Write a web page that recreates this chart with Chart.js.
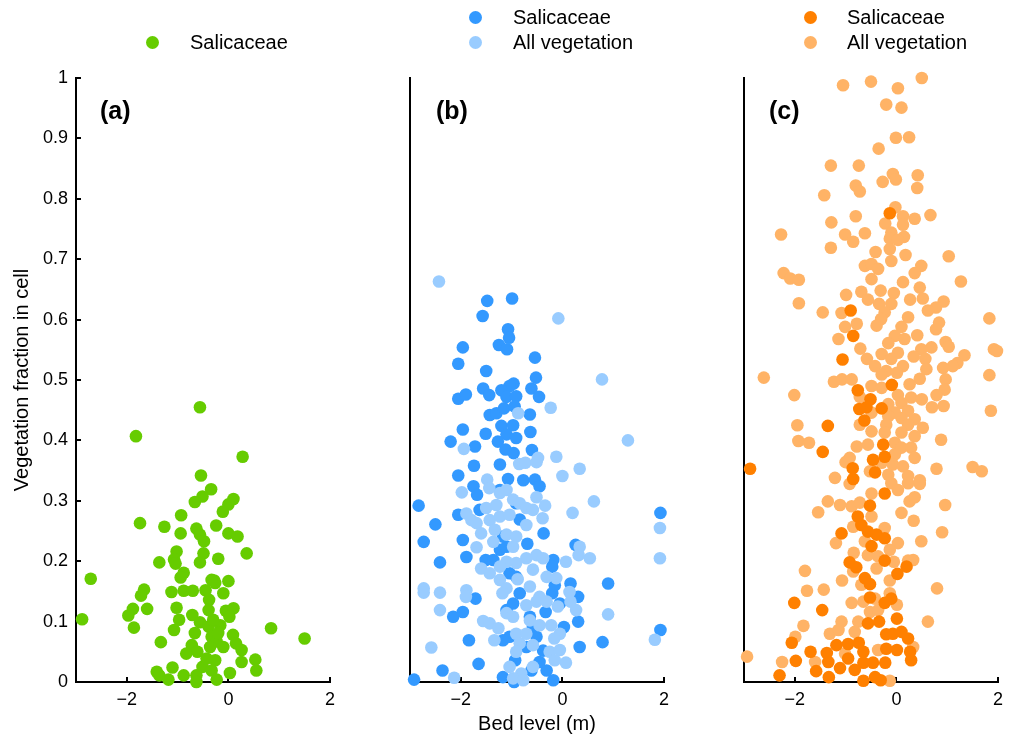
<!DOCTYPE html>
<html>
<head>
<meta charset="utf-8">
<title>Vegetation fraction vs bed level</title>
<script src="https://cdn.jsdelivr.net/npm/chart.js@4.4.1/dist/chart.umd.min.js"></script>
<style>
  body { margin: 0; background: #fff; font-family: 'Liberation Sans', Arial, sans-serif; color: #000; }
  #wrap { position: relative; width: 1011px; height: 735px; overflow: hidden; }
  #wrap canvas { position: absolute; top: 0; }
  .tag { position: absolute; font-weight: bold; font-size: 25px; line-height: 25px; }
  .key { position: absolute; font-size: 20px; line-height: 20px; white-space: nowrap; }
  .dot { position: absolute; width: 13px; height: 13px; border-radius: 50%; }
</style>
</head>
<body>
<div id="wrap">
  <canvas id="panelA" width="347" height="735" style="left:0px"></canvas>
  <canvas id="panelB" width="347" height="735" style="left:334px"></canvas>
  <canvas id="panelC" width="347" height="735" style="left:668px"></canvas>
</div>
<script>
// axis ticks
const xTicks = [-2, 0, 2];
const xTickLabels = ['\u22122', '0', '2'];
const yTicks = [0, 0.1, 0.2, 0.3, 0.4, 0.5, 0.6, 0.7, 0.8, 0.9, 1];
const yTickLabels = ['0', '0.1', '0.2', '0.3', '0.4', '0.5', '0.6', '0.7', '0.8', '0.9', '1'];

// [bed level (m), vegetation fraction]
const panelASalicaceae = [
  [-0.56,0.455],[-1.82,0.407],[0.28,0.373],[-0.54,0.342],[-0.34,0.319],[-0.51,0.307],[-0.66,0.298],[0.10,0.303],
  [0.00,0.294],[-0.11,0.282],[-0.93,0.276],[-1.74,0.263],[-1.26,0.257],[-0.94,0.246],[-0.63,0.254],[-0.56,0.244],
  [-0.48,0.233],[-0.24,0.259],[0.00,0.246],[0.18,0.241],[0.36,0.213],[-1.02,0.216],[-1.07,0.203],[-0.49,0.213],
  [-0.56,0.198],[-0.20,0.204],[-1.36,0.198],[-1.04,0.196],[-0.88,0.181],[-0.94,0.173],[-2.71,0.171],[-0.28,0.168],
  [0.00,0.167],[-1.66,0.153],[-1.72,0.143],[-1.12,0.149],[-0.88,0.151],[-0.70,0.151],[-0.45,0.152],[-0.10,0.147],
  [-0.38,0.136],[-1.02,0.123],[-1.60,0.121],[-1.88,0.121],[-1.97,0.110],[-1.86,0.090],[-2.88,0.104],[-0.05,0.118],
  [0.10,0.122],[0.02,0.108],[-0.71,0.111],[-0.97,0.103],[-1.07,0.086],[-0.56,0.099],[-0.39,0.092],[-0.16,0.094],
  [-0.66,0.081],[-0.33,0.075],[0.09,0.078],[-1.33,0.066],[0.84,0.089],[1.50,0.072],[-0.72,0.061],[-0.61,0.050],
  [-0.23,0.067],[-0.10,0.058],[0.15,0.064],[-0.83,0.047],[0.26,0.053],[0.53,0.037],[0.26,0.033],[0.55,0.019],
  [-1.41,0.017],[-1.10,0.024],[-1.36,0.011],[-1.18,0.004],[-0.88,0.011],[-0.63,0.011],[-0.63,0.000],[-0.51,0.025],
  [-0.33,0.019],[-0.23,0.004],[0.03,0.015],[-0.26,0.036],[-0.43,0.039],[-0.30,0.103],[-0.20,0.081],[-0.36,0.058],
  [-0.39,0.119],[-0.26,0.164],[-0.33,0.169]
];

const panelBSalicaceae = [
  [-1.48,0.631],[-0.99,0.635],[-1.57,0.606],[-1.07,0.584],[-1.05,0.570],[-1.25,0.558],[-1.09,0.551],[-1.96,0.554],
  [-2.05,0.527],[-0.54,0.537],[-1.50,0.515],[-0.52,0.504],[-0.96,0.494],[-1.04,0.490],[-1.56,0.486],[-1.44,0.475],
  [-1.20,0.483],[-1.10,0.472],[-0.91,0.473],[-0.61,0.486],[-0.46,0.472],[-2.05,0.469],[-1.90,0.476],[-1.43,0.442],
  [-1.30,0.445],[-1.15,0.453],[-0.94,0.456],[-0.64,0.443],[-1.20,0.424],[-0.97,0.425],[-1.96,0.418],[-1.51,0.411],
  [-0.63,0.414],[-1.10,0.410],[-0.91,0.404],[-2.20,0.398],[-1.72,0.390],[-1.27,0.398],[-1.12,0.385],[-0.96,0.379],
  [-0.60,0.384],[-1.74,0.358],[-1.23,0.360],[-2.05,0.342],[-1.07,0.336],[-0.77,0.334],[-0.54,0.335],
  [-0.45,0.324],[-1.75,0.324],[-1.68,0.310],[-2.83,0.292],[-2.05,0.277],[-2.50,0.261],[-0.37,0.246],[-2.73,0.232],
  [-1.96,0.235],[-0.69,0.229],[0.26,0.227],[-2.41,0.198],[-1.89,0.207],[-1.51,0.202],[-0.18,0.202],[-0.20,0.191],
  [0.16,0.163],[0.90,0.163],[-1.71,0.138],[-0.20,0.147],[0.31,0.141],[-0.84,0.147],[-2.15,0.108],[-1.96,0.116],
  [-0.33,0.116],[0.31,0.100],[0.03,0.091],[-1.84,0.069],[0.34,0.058],[0.79,0.066],[1.93,0.280],[1.93,0.086],
  [-1.65,0.030],[-2.36,0.019],[-2.92,0.004],[-1.17,0.008],[-0.95,0.000],[-0.18,0.003],[-0.31,0.019],[-0.61,0.019],
  [-0.45,0.033],[-0.93,0.036],[-1.04,0.075],[-1.17,0.069],[-0.58,0.091],[-0.51,0.075],[-0.38,0.052],[-0.71,0.058],
  [-1.10,0.119],[-0.97,0.130],[-0.64,0.108],[-0.91,0.174],[-1.04,0.180],[-1.23,0.219],[-1.10,0.224],[-1.36,0.202],
  [-0.84,0.269],[-1.17,0.241],[-0.91,0.296],[-1.23,0.318],[-1.63,0.285],[-0.15,0.160],[-0.05,0.130]
];

const panelBAllVegetation = [
  [-2.43,0.663],[-0.08,0.602],[0.78,0.501],[-0.23,0.454],[-0.87,0.445],[1.29,0.400],[-1.94,0.386],[-0.12,0.373],
  [-0.48,0.371],[-0.85,0.361],[-0.73,0.363],[-0.51,0.364],[0.34,0.353],[0.00,0.341],[-1.48,0.335],
  [-1.98,0.314],[-1.44,0.321],[-1.23,0.313],[-1.10,0.318],[-0.51,0.306],[0.62,0.299],[-0.34,0.292],[-0.97,0.302],
  [-0.84,0.296],[-1.50,0.288],[-1.30,0.293],[-0.71,0.288],[-0.58,0.285],[0.20,0.280],[-1.89,0.279],[-1.79,0.268],
  [-0.39,0.271],[-1.69,0.263],[-1.43,0.268],[-1.23,0.274],[-1.04,0.277],[-0.71,0.260],[1.92,0.255],[-1.60,0.246],
  [-1.33,0.252],[-1.10,0.244],[-0.91,0.241],[-1.36,0.232],[-0.97,0.224],[-1.69,0.223],[0.34,0.224],[0.32,0.210],
  [0.54,0.205],[1.92,0.205],[-0.51,0.210],[-0.38,0.205],[-0.71,0.205],[-0.91,0.197],[-1.10,0.199],[-1.60,0.188],
  [-1.23,0.191],[-1.43,0.180],[0.07,0.199],[-0.58,0.186],[-0.31,0.174],[-0.12,0.172],[-0.88,0.170],[-1.23,0.169],
  [-0.64,0.158],[-2.73,0.155],[-2.73,0.148],[-2.41,0.148],[-1.89,0.152],[-1.90,0.141],[-1.10,0.155],[-1.18,0.147],
  [-0.45,0.141],[0.14,0.149],[-0.71,0.127],[-0.51,0.133],[-0.31,0.133],[-0.09,0.125],[0.16,0.133],[0.27,0.119],
  [-2.41,0.119],[0.90,0.112],[-1.10,0.114],[-1.56,0.101],[-1.43,0.097],[-1.26,0.089],[-0.97,0.108],[-0.64,0.102],
  [-0.45,0.094],[-0.22,0.094],[-0.91,0.080],[-0.71,0.080],[-0.05,0.080],[-0.16,0.072],[-1.34,0.069],[1.82,0.070],
  [-2.58,0.057],[-0.84,0.064],[-0.58,0.061],[-0.91,0.050],[-0.25,0.050],[-0.05,0.053],[-0.15,0.036],[0.07,0.032],
  [-1.04,0.025],[-0.58,0.025],[-0.81,0.014],[-0.97,0.006],[-2.13,0.007],[-0.77,0.003]
];

const panelCSalicaceae = [
  [-0.13,0.776],[-0.90,0.615],[-0.85,0.573],[-1.06,0.534],[-0.09,0.492],[-0.76,0.483],[-0.51,0.468],[-0.73,0.452],
  [-0.59,0.455],[-0.29,0.453],[-0.63,0.433],[-1.35,0.424],[-1.45,0.381],[-0.26,0.393],[-0.23,0.373],[-0.46,0.368],
  [-2.88,0.353],[-0.86,0.354],[-0.42,0.347],[-0.85,0.336],
  [-0.23,0.312],[-0.52,0.292],[-0.76,0.274],[-0.69,0.260],[-0.56,0.249],[-1.08,0.246],[-0.39,0.244],[-0.23,0.238],
  [-0.49,0.225],[-0.92,0.198],[-0.79,0.190],[-0.23,0.201],[0.20,0.191],[0.02,0.179],[-0.62,0.172],[-0.52,0.162],
  [-0.52,0.140],[-0.23,0.131],[-0.10,0.138],[-2.01,0.131],[-1.46,0.119],[0.01,0.105],[-0.56,0.097],[-0.34,0.100],
  [-0.20,0.079],[-0.07,0.080],[0.10,0.083],[0.23,0.072],[-2.06,0.065],[-1.18,0.061],[-0.95,0.063],[-0.74,0.065],
  [-0.20,0.055],[0.01,0.053],[0.27,0.050],[-1.69,0.050],[-1.37,0.048],[-0.65,0.050],[-0.95,0.039],[0.29,0.036],
  [-1.98,0.035],[-1.34,0.033],[-0.65,0.032],[-0.46,0.032],[-0.22,0.032],[-1.11,0.023],[-0.82,0.020],[-1.58,0.018],
  [-2.30,0.011],[-1.33,0.008],[-0.42,0.008],[-0.65,0.002],[-0.31,0.003]
];

const panelCAllVegetation = [
  [0.50,1.000],[-1.05,0.988],[-0.50,0.994],[0.03,0.983],[-0.20,0.956],[0.10,0.951],[-0.01,0.901],[0.25,0.902],
  [-0.35,0.883],[-1.29,0.855],[-0.74,0.855],[-0.07,0.841],[-0.01,0.832],[-0.27,0.828],[0.42,0.839],[0.41,0.818],
  [-0.80,0.822],[-0.72,0.812],[-1.42,0.806],[-0.02,0.786],[0.13,0.771],[0.36,0.767],[0.67,0.773],[-0.80,0.771],
  [-1.28,0.761],[-0.22,0.759],[0.13,0.757],[-2.27,0.741],[-1.01,0.741],[-0.62,0.743],[-0.85,0.729],[-0.10,0.744],
  [-0.13,0.734],[0.15,0.737],[0.03,0.732],[-1.29,0.719],[-0.41,0.712],[-0.13,0.717],[0.18,0.707],[1.03,0.705],
  [-0.10,0.697],[-0.62,0.689],[-0.49,0.692],[-0.36,0.684],[0.49,0.689],[-2.22,0.677],[0.36,0.677],
  [-2.09,0.668],[-1.92,0.666],[1.27,0.663],[-0.49,0.667],[0.13,0.662],[0.46,0.653],[-0.99,0.641],[-0.69,0.646],
  [-0.31,0.648],[-0.05,0.644],[-0.56,0.633],[0.27,0.633],[0.52,0.635],[-1.92,0.627],[-0.34,0.626],[-0.10,0.626],
  [0.93,0.630],[0.78,0.620],[0.62,0.615],[-1.45,0.612],[-1.08,0.611],[-0.23,0.612],[-0.30,0.601],[0.23,0.604],
  [1.83,0.602],[-0.78,0.593],[-0.39,0.590],[-1.01,0.588],[0.10,0.588],[0.84,0.595],[0.78,0.584],[0.41,0.574],
  [-1.14,0.568],[-0.03,0.573],[0.16,0.568],[0.97,0.563],[1.03,0.555],[-0.16,0.561],[-0.71,0.552],[0.69,0.554],
  [0.49,0.551],[1.92,0.551],[1.98,0.548],[-0.29,0.543],[0.03,0.545],[1.34,0.541],[0.34,0.539],[-0.58,0.535],
  [-0.10,0.535],[0.57,0.535],[1.20,0.528],[1.11,0.523],[0.13,0.523],[-0.42,0.523],[0.92,0.520],[0.59,0.518],
  [-0.20,0.515],[0.01,0.512],[-0.29,0.509],[1.83,0.508],[-2.61,0.504],[0.46,0.502],[0.97,0.501],[-1.23,0.497],
  [-1.07,0.501],[-0.88,0.501],[0.26,0.493],[-0.49,0.490],[-0.29,0.487],[0.95,0.484],[0.79,0.475],[-2.01,0.475],
  [-0.72,0.472],[0.03,0.475],[0.29,0.471],[0.50,0.468],[0.10,0.462],[-0.16,0.460],[0.70,0.455],[0.93,0.457],
  [1.86,0.449],[-0.49,0.446],[-0.03,0.446],[0.23,0.449],[-0.16,0.440],[0.10,0.437],[0.36,0.435],[-1.95,0.425],
  [-0.72,0.426],[-0.20,0.426],[0.23,0.426],[0.52,0.421],[-0.49,0.415],[-0.23,0.413],[0.10,0.413],[0.36,0.407],
  [-1.93,0.399],[-1.72,0.396],[0.88,0.401],[-0.03,0.396],[-0.78,0.390],[-0.56,0.393],[0.10,0.388],[0.29,0.388],
  [-0.92,0.371],[-0.03,0.377],[0.36,0.371],[-1.00,0.364],[-0.29,0.363],[-0.07,0.360],[0.13,0.357],[0.79,0.353],
  [1.50,0.356],[1.68,0.349],[-0.52,0.349],[-1.21,0.338],[-0.16,0.343],[0.23,0.341],[0.46,0.334],
  [-0.92,0.328],[-0.10,0.329],[0.03,0.318],[0.23,0.329],[0.46,0.328],[-0.49,0.312],[-1.35,0.299],[-1.11,0.293],
  [-0.88,0.291],[-0.72,0.297],[0.26,0.299],[0.36,0.306],[0.96,0.293],[-1.54,0.281],[-0.49,0.274],[0.10,0.280],
  [0.34,0.267],[-0.85,0.257],[-0.23,0.255],[0.90,0.248],[-1.19,0.230],[-0.62,0.233],[0.03,0.230],[0.49,0.233],
  [-0.13,0.219],[-0.84,0.214],[-0.56,0.210],[-0.36,0.208],[-0.05,0.199],[0.23,0.201],[0.33,0.202],[-0.39,0.188],
  [-1.80,0.184],[-0.85,0.183],[-0.13,0.168],[-1.07,0.168],[-0.69,0.161],[0.80,0.155],[-1.76,0.151],[-1.43,0.153],
  [-0.13,0.147],[-0.88,0.131],[-0.65,0.133],[-0.42,0.138],[0.01,0.128],[-0.52,0.116],[-0.36,0.119],[-1.08,0.100],
  [-0.75,0.100],[0.62,0.100],[-1.83,0.093],[-1.99,0.075],[-1.31,0.080],[-1.14,0.086],[-0.82,0.083],[-0.36,0.053],
  [0.33,0.058],[-2.94,0.042],[-2.25,0.033],[-1.60,0.033],[-0.13,0.002],[-1.01,0.047]
];

const GREEN = '#66cc00';
const BLUE = '#3399ff';
const LIGHT_BLUE = '#99ccff';
const ORANGE = '#ff8000';
const LIGHT_ORANGE = '#ffb366';

Chart.defaults.font.family = "'Liberation Sans', Arial, Helvetica, sans-serif";
Chart.defaults.color = '#000';

function toPoints(list) {
  return list.map(p => ({ x: p[0], y: p[1] }));
}

function series(label, list, color, order) {
  return {
    label: label,
    data: toPoints(list),
    backgroundColor: color,
    borderColor: color,
    pointRadius: 6.3,
    pointHoverRadius: 6.3,
    pointBorderWidth: 0,
    order: order,
    clip: false
  };
}

const axisLine = { display: true, color: '#000', width: 2 };
const tickMarks = { drawOnChartArea: false, drawTicks: true, tickLength: -5, color: '#000', lineWidth: 2 };

function xAxis(withTitle) {
  return {
    type: 'linear',
    min: -3,
    max: 2,
    afterBuildTicks: s => { s.ticks = xTicks.map(v => ({ value: v })); },
    afterFit: s => { s.height = 53; },
    ticks: { font: { size: 18 }, padding: 12, maxRotation: 0, autoSkip: false,
             callback: (v, i) => xTickLabels[i] },
    grid: tickMarks,
    border: axisLine,
    title: {
      display: withTitle,
      text: 'Bed level (m)',
      font: { size: 20, lineHeight: 1 },
      padding: { top: 0, bottom: 1 }
    }
  };
}

function yAxis(withLabels) {
  if (!withLabels) {
    return {
      type: 'linear', min: 0, max: 1,
      afterFit: s => { s.width = 76; },
      ticks: { display: false },
      grid: { display: false },
      border: axisLine
    };
  }
  return {
    type: 'linear', min: 0, max: 1,
    afterBuildTicks: s => { s.ticks = yTicks.map(v => ({ value: v })); },
    afterFit: s => { s.width = 76; },
    ticks: { font: { size: 18 }, padding: 13, autoSkip: false,
             callback: (v, i) => yTickLabels[i] },
    grid: tickMarks,
    border: axisLine,
    title: {
      display: true,
      text: 'Vegetation fraction in cell',
      font: { size: 20, lineHeight: 1.2 },
      padding: { top: 10 }
    }
  };
}

function makePanel(id, datasets, leftAxis, bottomTitle) {
  return new Chart(document.getElementById(id), {
    type: 'scatter',
    data: { datasets: datasets },
    options: {
      responsive: false,
      animation: false,
      events: [],
      layout: { padding: { top: 78, right: 17, bottom: 0, left: 0 } },
      scales: { x: xAxis(bottomTitle), y: yAxis(leftAxis) },
      plugins: { legend: { display: false }, tooltip: { enabled: false } }
    }
  });
}

makePanel('panelA', [series('Salicaceae', panelASalicaceae, GREEN, 0)], true, false);
makePanel('panelB', [
  series('Salicaceae', panelBSalicaceae, BLUE, 1),
  series('All vegetation', panelBAllVegetation, LIGHT_BLUE, 0)
], false, true);
makePanel('panelC', [
  series('Salicaceae', panelCSalicaceae, ORANGE, 0),
  series('All vegetation', panelCAllVegetation, LIGHT_ORANGE, 1)
], false, false);

// legends and panel letters as html on top of the canvases
const wrap = document.getElementById('wrap');

function addKey(dotX, textX, rowY, label, color) {
  const dot = document.createElement('div');
  dot.className = 'dot';
  dot.style.left = (dotX - 6.5) + 'px';
  dot.style.top = (rowY - 6.5) + 'px';
  dot.style.background = color;
  wrap.appendChild(dot);
  const txt = document.createElement('div');
  txt.className = 'key';
  txt.textContent = label;
  txt.style.left = textX + 'px';
  txt.style.top = (rowY - 10) + 'px';
  wrap.appendChild(txt);
}

function addTag(x, y, text) {
  const el = document.createElement('div');
  el.className = 'tag';
  el.textContent = text;
  el.style.left = x + 'px';
  el.style.top = y + 'px';
  wrap.appendChild(el);
}

addKey(152, 190, 42, 'Salicaceae', GREEN);
addKey(475, 513, 17, 'Salicaceae', BLUE);
addKey(475, 513, 42, 'All vegetation', LIGHT_BLUE);
addKey(810, 847, 17, 'Salicaceae', ORANGE);
addKey(810, 847, 42, 'All vegetation', LIGHT_ORANGE);

addTag(100, 98, '(a)');
addTag(436, 98, '(b)');
addTag(769, 98, '(c)');
</script>
</body>
</html>
